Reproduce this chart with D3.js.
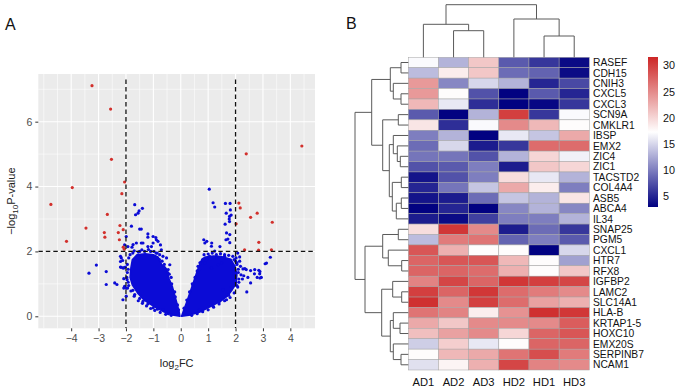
<!DOCTYPE html>
<html><head><meta charset="utf-8">
<script src="https://cdn.jsdelivr.net/npm/d3@7"></script>
<style>body{margin:0;background:#fff} svg{display:block;font-family:"Liberation Sans",Arial,Helvetica,sans-serif}</style>
</head><body><svg id="c" width="677" height="391"></svg>
<script>
// ---------------- Panel A: volcano data ----------------
const xTicks = [-4,-3,-2,-1,0,1,2,3,4];
const yTicks = [0,2,4,6];
const xMinor = [-5,-4.5,-3.5,-2.5,-1.5,-0.5,0.5,1.5,2.5,3.5,4.5];
const yMinor = [1,3,5,7];
const fcCut = [-2,2];
const pCut = [2];
const redPoints = [[-3.24,7.11],[-2.56,6.39],[-2.53,4.84],[-2.05,4.14],[-3.96,3.97],[-2.15,3.78],[2.39,5.01],[4.42,5.25],
 [-4.74,3.45],[-2.68,3.14],[-3.46,2.72],[-2.79,2.58],[-2.77,2.44],[-2.22,2.80],[-2.10,2.67],[-2.28,2.58],[-2.24,2.36],
 [-4.17,2.31],[-2.10,2.13],[-2.06,2.07],[2.12,3.49],[2.17,3.34],[2.02,2.85],[2.55,3.05],[2.79,3.18],[3.34,2.90],
 [2.85,2.28],[2.33,2.05],[2.84,2.04],[3.31,2.05]];
const bluePoints = [
 [1.04,3.92],[1.18,3.50],[1.24,3.37],[1.63,3.48],[1.80,3.48],[1.66,3.18],[1.81,3.28],[1.84,3.12],[1.78,2.92],[1.62,2.84],
 [1.77,3.00],[1.67,2.57],[1.79,2.52],[1.65,2.36],[1.79,2.27],[1.72,2.38],[0.84,2.36],[0.95,2.31],[1.12,2.16],[1.24,2.01],
 [1.43,2.15],[0.88,2.26],[1.13,2.26],[1.78,3.08],
 [2.08,1.95],[2.15,1.83],[2.02,1.80],[3.27,1.82],[3.08,1.62],[3.13,1.64],[2.18,1.54],[2.27,1.46],[2.39,1.44],[2.55,1.41],
 [2.69,1.31],[2.85,1.42],[2.88,1.31],[2.79,1.20],[2.94,1.20],[2.55,1.03],[2.41,0.75],[2.34,1.47],[2.70,1.44],[2.89,1.38],
 [2.89,1.18],[2.05,1.60],[2.10,1.35],[2.20,1.28],[2.25,1.15],[2.12,1.05],[2.05,0.95],[2.30,1.25],[2.45,1.20],[2.15,1.70],
 [2.00,1.70],[1.31,1.80],[1.49,1.64],[0.88,1.64],[0.63,1.54],[0.69,1.44],[1.37,1.59],[1.12,1.49],[1.55,0.82],[1.67,0.51],
 [1.18,0.31],[0.69,0.21],[0.39,0.05],[1.90,1.85],[1.95,1.55],[2.00,1.25],[1.98,1.10],[1.60,1.90],[1.05,1.85],[0.95,1.75],
 [1.75,0.65],[1.85,0.90],[1.40,0.45],[0.55,1.20],[0.45,0.95],[0.80,1.72],[0.70,1.65],
 [0.85,1.90],[1.00,1.92],[1.15,1.95],[1.30,1.90],[1.45,1.93],[1.60,1.85],[1.75,1.88],[1.95,1.75],[2.05,1.65],
 [0.72,1.65],[0.60,1.40],[0.52,1.20],[0.42,1.00],[0.32,0.75],[0.22,0.50],[0.12,0.25],
 [2.10,1.45],[2.12,1.15],[2.08,0.90],[1.95,0.72],[1.80,0.58],[1.60,0.48],[1.40,0.38],[1.20,0.28],[1.00,0.20],[0.80,0.14],
 [0.60,0.08],[0.40,0.03],
 [-1.68,3.44],[-1.65,3.13],[-1.52,3.25],[-1.40,3.33],[-1.56,3.18],[-1.80,2.78],[-1.50,2.69],[-1.44,2.69],[-1.20,2.54],
 [-1.20,2.44],[-0.91,2.43],[-0.83,2.31],[-0.74,2.20],[-0.65,1.85],[-1.01,2.26],[-1.44,2.26],[-1.74,2.21],[-1.62,2.26],
 [-1.93,2.15],[-1.78,2.13],[-1.01,2.46],[-0.89,2.36],[-1.38,2.26],[-1.20,2.15],[-1.07,2.15],[-0.71,2.05],[-0.77,1.90],
 [-1.99,2.46],[-2.05,2.20],[-2.17,1.80],[-2.11,1.49],[-2.05,0.92],[-1.99,0.62],[-2.11,0.51],[-1.68,0.67],[-1.38,0.46],
 [-1.01,0.26],[-0.65,0.21],[-0.52,1.80],[-0.40,1.59],[-0.46,1.44],
 [-3.35,1.33],[-3.08,1.58],[-2.72,1.38],[-2.72,0.98],[-2.41,1.03],[-2.33,0.98],[-2.20,1.85],[-2.20,1.69],[-2.20,1.52],
 [-2.08,1.49],[-2.08,1.16],[-2.08,0.87],[-1.99,0.87],[-2.12,1.72],[-2.18,1.51],[-2.02,1.52],[-1.96,1.13],[-1.94,0.87],
 [-1.90,1.80],[-1.95,1.60],[-1.95,1.35],[-1.92,1.05],[-1.75,0.80],[-1.50,0.55],[-1.20,0.38],[-0.85,0.22],[-0.45,0.08],
 [-0.90,1.95],[-1.10,2.00],[-1.50,2.00],[-1.75,1.95],[-0.60,1.60],[-0.35,1.20],[-0.22,0.75],
 [-1.85,1.90],[-1.70,2.02],[-1.55,1.98],[-1.42,2.05],[-1.32,2.00],[-1.18,2.06],[-0.98,2.00],[-0.86,1.95],[-0.78,1.75],
 [-0.68,1.70],[-0.60,1.50],[-0.48,1.35],[-0.42,1.30],[-0.33,1.00],[-0.30,0.80],[-0.20,0.60],[-0.12,0.35],[-0.08,0.20],
 [-1.92,1.45],[-1.97,1.20],[-1.90,0.95],[-1.82,0.78],[-1.70,0.62],[-1.55,0.48],[-1.40,0.40],[-1.25,0.32],[-1.10,0.24],
 [-0.95,0.18],[-0.75,0.12],[-0.55,0.06],[-0.35,0.03]];
const coreLeft = [[-0.03,0],[-0.25,0.03],[-0.6,0.13],[-1.0,0.31],[-1.35,0.51],[-1.58,0.72],[-1.77,0.97],[-1.85,1.2],[-1.82,1.5],
 [-1.77,1.74],[-1.6,1.9],[-1.3,1.93],[-1.0,1.9],[-0.82,1.82],[-0.7,1.6],[-0.53,1.47],[-0.42,1.15],[-0.3,0.9],[-0.17,0.5],[-0.06,0.15]];
const coreRight = [[0.03,0],[0.3,0.03],[0.7,0.13],[1.1,0.31],[1.45,0.46],[1.7,0.62],[1.88,0.82],[2.02,1.0],[2.05,1.3],[1.97,1.55],
 [1.83,1.76],[1.5,1.84],[1.2,1.86],[0.9,1.83],[0.77,1.76],[0.65,1.52],[0.41,0.92],[0.22,0.45],[0.09,0.15]];

// ---------------- Panel B: heatmap data ----------------
const samples = ["AD1","AD2","AD3","HD2","HD1","HD3"];
const genes = ["RASEF","CDH15","CNIH3","CXCL5","CXCL3","SCN9A","CMKLR1","IBSP","EMX2","ZIC4","ZIC1","TACSTD2","COL4A4",
 "ASB5","ABCA4","IL34","SNAP25","PGM5","CXCL1","HTR7","RFX8","IGFBP2","LAMC2","SLC14A1","HLA-B","KRTAP1-5","HOXC10",
 "EMX20S","SERPINB7","NCAM1"];
const expr = [
 [17,13,21,8,6,3.5],
 [13.5,18.5,21,9,8.5,3.5],
 [24,10.5,15,13,5,7],
 [24,17.5,7.5,3,8,5],
 [22,16,5.5,3,3.3,6],
 [8,3,13,30,6,17],
 [19,5.5,17,25,22,17.5],
 [10,13,3,16,14,23],
 [9,15,4.5,6,27,27],
 [9.5,9.5,7.5,13,20,16.5],
 [7.5,8,10,4.5,21,20],
 [4,7.5,10,19.5,16,13],
 [5,9.5,14,23,18.5,10],
 [4,4.5,9,14,13,19],
 [3,5,3,10.5,13,10.5],
 [4.5,3.5,6.5,10,10,13],
 [19.5,30.5,25,4.5,9,6],
 [13.5,26,26.5,8.5,10,8],
 [28.5,22.5,17.5,17.5,3,15],
 [27.5,28.5,28.5,22,17.5,12],
 [27.5,27.5,27,22.5,17.5,21],
 [25.5,29.5,27.5,30.5,30,29.5],
 [30,27.5,30.5,27,26,25],
 [31,25,30,27,23.5,22.5],
 [26.5,25.5,18.5,24.5,31,30.5],
 [23,21,25,25,25,28],
 [21.5,23.5,25,20,27.5,28.5],
 [14.5,20.5,16,17.5,27.5,27.5],
 [17.5,22,23,26.5,29,26],
 [15.5,18,22.5,29.5,25.5,25]];
const colorRange = [2.9, 31.65];
const colorTicks = [5,10,15,20,25,30];
// dendrograms: [height, left, right]; leaves are indices
const rowTree = [53.3,
  [36.6,
    [18,[7.3,0,1],[15,2,[7.3,3,4]]],
    [25.6,[10,5,6],[19,[15,7,[11,8,[8,9,10]]],[16,[7,11,12],[12,[7,13,14],15]]]]],
  [43.3,
    [25.6,[10,16,17],[20,18,[6.6,19,20]]],
    [26.6,[15.6,21,[6.6,22,23]],[18,[15,24,[8.3,25,26]],[15,27,[7.3,28,29]]]]]];
const colTree = [52.6,[33,0,[26.6,1,2]],[38.3,3,[21.3,4,5]]];

// ---------------- drawing ----------------
const svg = d3.select("#c");
svg.append("rect").attr("width",677).attr("height",391).attr("fill","#fff");

// Panel A
const P = {l:38.3, r:315, t:74, b:328.3};
const x = d3.scaleLinear().domain([-5.2,4.9]).range([P.l,P.r]);
const y = d3.scaleLinear().domain([-0.37,7.47]).range([P.b,P.t]);
const gA = svg.append("g");
gA.append("defs").append("clipPath").attr("id","clipA").append("rect")
  .attr("x",P.l).attr("y",P.t).attr("width",P.r-P.l).attr("height",P.b-P.t);
gA.append("rect").attr("x",P.l).attr("y",P.t).attr("width",P.r-P.l).attr("height",P.b-P.t).attr("fill","#ebebeb");
gA.selectAll(".mx").data(xMinor).join("line").attr("x1",d=>x(d)).attr("x2",d=>x(d)).attr("y1",P.t).attr("y2",P.b)
  .attr("stroke","#fff").attr("stroke-width",0.55);
gA.selectAll(".my").data(yMinor).join("line").attr("y1",d=>y(d)).attr("y2",d=>y(d)).attr("x1",P.l).attr("x2",P.r)
  .attr("stroke","#fff").attr("stroke-width",0.55);
gA.selectAll(".Mx").data(xTicks).join("line").attr("x1",d=>x(d)).attr("x2",d=>x(d)).attr("y1",P.t).attr("y2",P.b)
  .attr("stroke","#fff").attr("stroke-width",1.1);
gA.selectAll(".My").data(yTicks).join("line").attr("y1",d=>y(d)).attr("y2",d=>y(d)).attr("x1",P.l).attr("x2",P.r)
  .attr("stroke","#fff").attr("stroke-width",1.1);

const plotG = gA.append("g").attr("clip-path","url(#clipA)");
const blue = "#0b0bd6", red = "#d2302c";
const area = d3.line().x(d=>x(d[0])).y(d=>y(d[1])).curve(d3.curveLinearClosed);
[coreLeft, coreRight].forEach(c=>{
  plotG.append("path").attr("d",area(c)).attr("fill",blue).attr("stroke",blue).attr("stroke-width",1.5).attr("stroke-linejoin","round");
});
plotG.selectAll(".bp").data(bluePoints).join("circle").attr("cx",d=>x(d[0])).attr("cy",d=>y(d[1])).attr("r",1.6).attr("fill",blue);
plotG.selectAll(".rp").data(redPoints).join("circle").attr("cx",d=>x(d[0])).attr("cy",d=>y(d[1])).attr("r",1.6).attr("fill",red);
plotG.selectAll(".vc").data(fcCut).join("line").attr("x1",d=>x(d)).attr("x2",d=>x(d)).attr("y1",y(7.3)).attr("y2",P.b)
  .attr("stroke","#111").attr("stroke-width",1.3).attr("stroke-dasharray","4.5,3");
plotG.selectAll(".hc").data(pCut).join("line").attr("y1",d=>y(d)).attr("y2",d=>y(d)).attr("x1",P.l).attr("x2",P.r)
  .attr("stroke","#111").attr("stroke-width",1.3).attr("stroke-dasharray","4.5,3");

const fmt = d => d<0 ? "\u2212"+(-d) : String(d);
const ax = gA.append("g").attr("transform",`translate(0,${P.b})`)
  .call(d3.axisBottom(x).tickValues(xTicks).tickSize(3).tickPadding(3).tickFormat(fmt));
const ay = gA.append("g").attr("transform",`translate(${P.l},0)`)
  .call(d3.axisLeft(y).tickValues(yTicks).tickSize(3).tickPadding(3).tickFormat(fmt));
[ax,ay].forEach(a=>{
  a.select(".domain").remove();
  a.selectAll(".tick line").attr("stroke","#333").attr("stroke-width",1);
  a.selectAll(".tick text").attr("fill","#4d4d4d").style("font-size","10.5px").style("font-family","Liberation Sans, Arial, sans-serif");
});
const xt = gA.append("text").attr("x",(P.l+P.r)/2).attr("y",367).attr("text-anchor","middle").attr("font-size",11).attr("fill","#222");
xt.append("tspan").text("log");
xt.append("tspan").text("2").attr("font-size",8).attr("dy",3);
xt.append("tspan").text("FC").attr("dy",-3);
const yt = gA.append("text").attr("transform",`translate(15,${(P.t+P.b)/2}) rotate(-90)`).attr("text-anchor","middle").attr("font-size",11).attr("fill","#222");
yt.append("tspan").text("\u2212log");
yt.append("tspan").text("10").attr("font-size",8).attr("dy",3);
yt.append("tspan").text("P-value").attr("dy",-3);
svg.append("text").attr("x",5).attr("y",30).attr("font-size",16).attr("fill","#111").text("A");

// Panel B
svg.append("text").attr("x",346).attr("y",29).attr("font-size",16).attr("fill","#111").text("B");
const hx = d3.scaleBand().domain(d3.range(samples.length)).range([408.3,589.3]);
const hy = d3.scaleBand().domain(d3.range(genes.length)).range([57.3,370]);
const col = d3.scaleLinear().domain([colorRange[0],(colorRange[0]+colorRange[1])/2,colorRange[1]]).range(["#000080","#ffffff","#cd2626"]);
const gB = svg.append("g");
const cells = [];
expr.forEach((row,i)=>row.forEach((v,j)=>cells.push({i,j,v})));
gB.selectAll(".cell").data(cells).join("rect")
  .attr("x",d=>hx(d.j)).attr("y",d=>hy(d.i)).attr("width",hx.bandwidth()).attr("height",hy.bandwidth())
  .attr("fill",d=>col(d.v)).attr("stroke","#a3a3a3").attr("stroke-width",0.5);
gB.selectAll(".rl").data(genes).join("text").attr("x",593).attr("y",(d,i)=>hy(i)+hy.bandwidth()/2)
  .attr("dy","0.36em").attr("font-size",10.3).attr("fill","#111").text(d=>d);
gB.selectAll(".cl").data(samples).join("text").attr("x",(d,i)=>hx(i)+hx.bandwidth()/2).attr("y",386)
  .attr("text-anchor","middle").attr("font-size",11.2).attr("fill","#111").text(d=>d);

// dendrograms
const dendroStroke = "#5a5a5a";
const rdx = d3.scaleLinear().domain([0,rowTree[0]]).range([408.3,355]);
const rowPaths = [];
function rowNode(n){
  if(typeof n==="number") return {p:hy(n)+hy.bandwidth()/2,h:0};
  const A=rowNode(n[1]), B=rowNode(n[2]);
  rowPaths.push(`M${rdx(A.h)},${A.p}H${rdx(n[0])}V${B.p}H${rdx(B.h)}`);
  return {p:(A.p+B.p)/2,h:n[0]};
}
rowNode(rowTree);
gB.selectAll(".rd").data(rowPaths).join("path").attr("d",d=>d).attr("fill","none").attr("stroke",dendroStroke).attr("stroke-width",1);
const cdy = d3.scaleLinear().domain([0,colTree[0]]).range([57.3,4.7]);
const colPaths = [];
function colNode(n){
  if(typeof n==="number") return {p:hx(n)+hx.bandwidth()/2,h:0};
  const A=colNode(n[1]), B=colNode(n[2]);
  colPaths.push(`M${A.p},${cdy(A.h)}V${cdy(n[0])}H${B.p}V${cdy(B.h)}`);
  return {p:(A.p+B.p)/2,h:n[0]};
}
colNode(colTree);
gB.selectAll(".cd").data(colPaths).join("path").attr("d",d=>d).attr("fill","none").attr("stroke",dendroStroke).attr("stroke-width",1);

// legend
const ly = d3.scaleLinear().domain(colorRange).range([207,57]);
const grad = svg.append("defs").append("linearGradient").attr("id","lg").attr("x1",0).attr("y1",1).attr("x2",0).attr("y2",0);
d3.range(0,1.0001,0.05).forEach(t=>{
  const v = colorRange[0]+t*(colorRange[1]-colorRange[0]);
  grad.append("stop").attr("offset",t).attr("stop-color",col(v));
});
gB.append("rect").attr("x",648).attr("y",ly(colorRange[1])).attr("width",10).attr("height",ly(colorRange[0])-ly(colorRange[1])).attr("fill","url(#lg)");
gB.selectAll(".lt").data(colorTicks).join("text").attr("x",663).attr("y",d=>ly(d)).attr("dy","0.36em")
  .attr("font-size",10.8).attr("fill","#111").text(d=>d);
</script></body></html>
